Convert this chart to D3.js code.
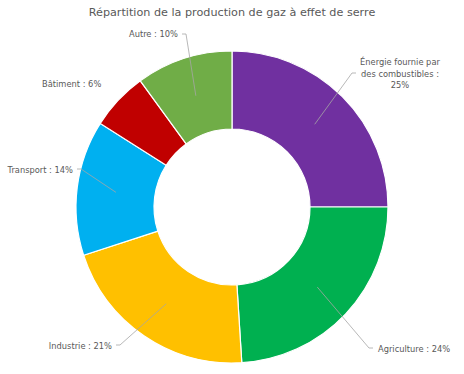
<!DOCTYPE html>
<html><head><meta charset="utf-8">
<script src="https://cdn.jsdelivr.net/npm/d3@7"></script>
<style>body{margin:0;background:#fff}svg{display:block}text{font-family:"DejaVu Sans",sans-serif;fill:#595959}</style>
</head><body>
<script>
const title = "Répartition de la production de gaz à effet de serre";
const categories = ["Énergie fournie par des combustibles", "Agriculture", "Industrie", "Transport", "Bâtiment", "Autre"];
const values = [25, 24, 21, 14, 6, 10];
const colors = ["#7030A0", "#00B050", "#FFC000", "#00B0F0", "#C00000", "#70AD47"];
// label layout: anchor point, text-anchor, lines, whether leader drawn
const labelLayout = [
  {x: 400, y: 65, anchor: "middle", lines: ["Énergie fournie par", "des combustibles :", "25%"], lx: 356, ly: 73, leader: true},
  {x: 378, y: 352, anchor: "start", lines: ["Agriculture : 24%"], lx: 373, ly: 348, leader: true},
  {x: 112, y: 349, anchor: "end", lines: ["Industrie : 21%"], lx: 116, ly: 345, leader: true},
  {x: 73, y: 173, anchor: "end", lines: ["Transport : 14%"], lx: 77, ly: 169, leader: true},
  {x: 42, y: 87, anchor: "start", lines: ["Bâtiment : 6%"], lx: 0, ly: 0, leader: false},
  {x: 178, y: 37, anchor: "end", lines: ["Autre : 10%"], lx: 182, ly: 34, leader: true}
];

const W = 464, H = 374;
const svg = d3.select("body").append("svg").attr("width", W).attr("height", H);
svg.append("text").attr("x", 232).attr("y", 16).attr("text-anchor", "middle")
  .style("font-size", "11.2px").text(title);

const cx = 232, cy = 207, R = 156, r0 = 78;
const g = svg.append("g").attr("transform", `translate(${cx},${cy})`);
const pie = d3.pie().sort(null).value(d => d)(values);
const arc = d3.arc().innerRadius(r0).outerRadius(R);
const midArc = d3.arc().innerRadius(117).outerRadius(117);

g.selectAll("path.slice").data(pie).join("path").attr("class", "slice")
  .attr("d", arc).attr("fill", (d, i) => colors[i])
  .attr("stroke", "#fff").attr("stroke-width", 1.2);

pie.forEach((d, i) => {
  const L = labelLayout[i];
  if (L.leader) {
    const [mx, my] = midArc.centroid(d);
    const px = mx + cx, py = my + cy;
    const hx = L.anchor === "end" ? L.lx + 4 : L.lx - 4;
    svg.append("polyline")
      .attr("points", `${L.lx},${L.ly} ${hx},${L.ly} ${px},${py}`)
      .attr("fill", "none").attr("stroke", "#a6a6a6").attr("stroke-width", 0.8);
  }
  const t = svg.append("text").attr("text-anchor", L.anchor).style("font-size", "8.3px");
  L.lines.forEach((ln, j) => {
    t.append("tspan").attr("x", L.x).attr("y", L.y + j * 11.5).text(ln);
  });
});
</script>
</body></html>
